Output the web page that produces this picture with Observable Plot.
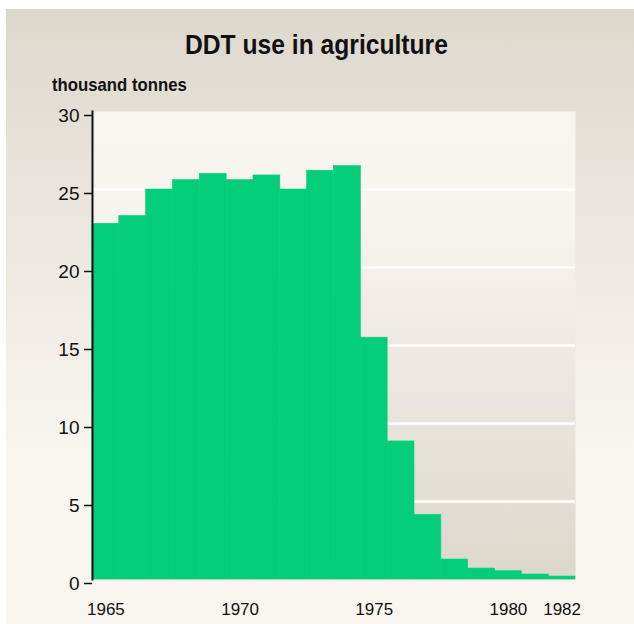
<!DOCTYPE html>
<html>
<head>
<meta charset="utf-8">
<script src="https://cdn.jsdelivr.net/npm/d3@7"></script>
<script src="https://cdn.jsdelivr.net/npm/@observablehq/plot@0.6"></script>
<style>
  html, body { margin: 0; padding: 0; background: #ffffff; }
  #wrap { position: relative; width: 634px; height: 624px; overflow: hidden; }
  #bg { position: absolute; left: 6px; top: 9px; width: 628px; height: 615px;
        background: linear-gradient(to bottom, #dcd8cc 0%, #ebe7df 35%, #f9f5ef 72%, #f9f5ef 100%); }
  #title { position: absolute; left: 185px; top: 31px;
           font-family: "Liberation Sans", Arial, sans-serif;
           font-weight: bold; font-size: 28px; line-height: 28px; color: #111; white-space: nowrap;
           transform: scaleX(0.88); transform-origin: 0 0; }
  #subtitle { position: absolute; left: 52px; top: 76px;
           font-family: "Liberation Sans", Arial, sans-serif;
           font-weight: bold; font-size: 18px; line-height: 18px; color: #111; white-space: nowrap;
           transform: scaleX(0.93); transform-origin: 0 0; }
  #chart { position: absolute; left: 0; top: 0; }
</style>
</head>
<body>
<div id="wrap">
  <div id="bg"></div>
  <div id="chart"></div>
  <div id="title">DDT use in agriculture</div>
  <div id="subtitle">thousand tonnes</div>
</div>
<script>
const years = [1965,1966,1967,1968,1969,1970,1971,1972,1973,1974,1975,1976,1977,1978,1979,1980,1981,1982];
const usage = [22.8,23.3,25.0,25.6,26.0,25.6,25.9,25.0,26.2,26.5,15.5,8.85,4.15,1.28,0.7,0.53,0.32,0.19];
const yTicks = [0,5,10,15,20,25,30];
const gridValues = [5,10,15,20,25];
const xTickYears = [1965,1970,1975,1980,1982];

const data = years.map((year, i) => ({year, value: usage[i]}));

const plot = Plot.plot({
  width: 634,
  height: 624,
  marginLeft: 92,
  marginRight: 59,
  marginTop: 111,
  marginBottom: 45,
  style: {background: "transparent", fontFamily: "'Liberation Sans', Arial, sans-serif", color: "#111"},
  x: {type: "band", domain: years, padding: 0, round: false},
  y: {domain: [0, 30]},
  marks: [
    Plot.frame({fill: "url(#plotgrad)", stroke: null}),
    Plot.ruleY(gridValues, {stroke: "white", strokeWidth: 2.5}),
    Plot.barY(data, {x: "year", y: "value", fill: "#05ce7b", stroke: "#05ce7b", strokeWidth: 0.6}),
    Plot.frame({anchor: "left", stroke: "#111", strokeWidth: 2}),
    Plot.axisY({ticks: yTicks, tickSize: 8, tickPadding: 5, fontSize: 19, dy: 4, label: null, stroke: "#111", strokeWidth: 1.5}),
    Plot.axisX({ticks: xTickYears, tickSize: 0, tickPadding: 23, fontSize: 17, label: null, tickFormat: d => String(d)})
  ]
});

plot.insertAdjacentHTML("afterbegin",
  '<defs><linearGradient id="plotgrad" x1="0" y1="0" x2="0" y2="1">' +
  '<stop offset="0" stop-color="#f9f5ef"/><stop offset="0.25" stop-color="#f7f3ed"/>' +
  '<stop offset="1" stop-color="#dcd8cc"/></linearGradient></defs>');

document.getElementById("chart").appendChild(plot);
</script>
</body>
</html>
